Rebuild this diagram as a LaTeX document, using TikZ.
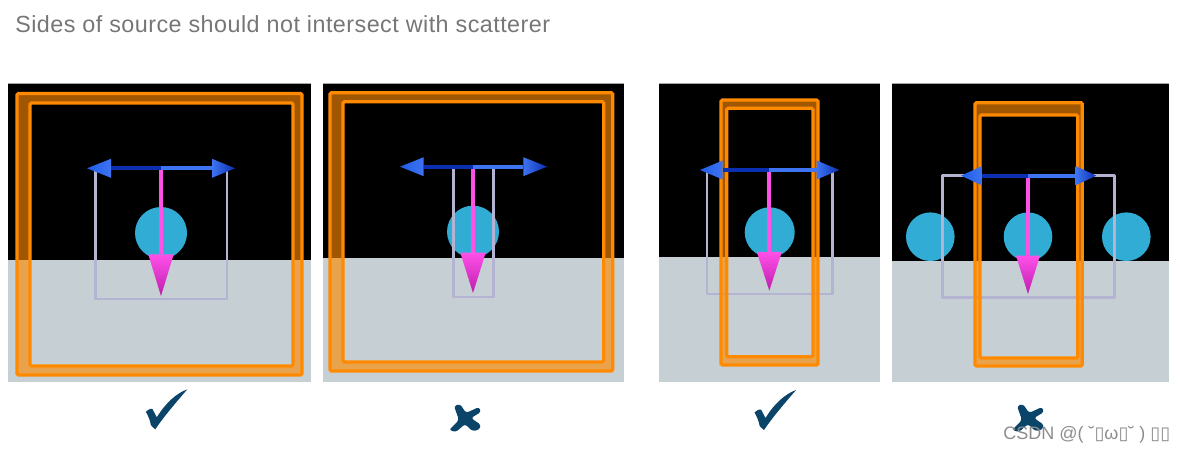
\documentclass[tikz,border=0pt]{standalone}
\usepackage{fontspec}
\setmainfont{Liberation Sans}
\newfontfamily\symfont{DejaVu Sans}
\definecolor{groundc}{HTML}{C6CFD3}
\definecolor{scatc}{HTML}{31ADD5}
\definecolor{rectc}{HTML}{B4B4D2}
\definecolor{orangec}{HTML}{FF8A00}
\definecolor{markc}{HTML}{0A4468}
\definecolor{titlec}{HTML}{767676}
\definecolor{wmc}{HTML}{8C8C8C}
\definecolor{bluedark}{HTML}{0A2FB0}
\definecolor{bluelite}{HTML}{3E74F2}
\definecolor{bluemid}{HTML}{1E5CE6}
\definecolor{magc}{HTML}{FF50E8}
\definecolor{magd}{HTML}{BE1EAE}
\tikzset{
  srcbox/.style={draw=rectc,line width=2.1pt,line join=round},
  scatterer/.style={fill=scatc},
  orangeline/.style={draw=orangec,line width=2.4pt,rounded corners=1pt},
  orangeband/.style={fill=orangec,fill opacity=.63,even odd rule},
  markfill/.style={fill=markc},
}
% panel background: x0, x1, horizon
\newcommand{\bgpanel}[3]{%
  \fill[black] (#1,83.5) rectangle (#2,#3);
  \fill[groundc] (#1,#3) rectangle (#2,381.7);
  \draw[gray!70,line width=.5pt] (#1,83.5) -- (#2,83.5);
}
% orange box: outer x0,y0,x1,y1 then inner x0,y0,x1,y1
\newcommand{\orangebox}[8]{%
  \fill[orangeband] (#1,#2) rectangle (#3,#4) (#5,#6) rectangle (#7,#8);
  \draw[orangeline] (#1,#2) rectangle (#3,#4);
  \draw[orangeline] (#5,#6) rectangle (#7,#8);
}
% cx, ytop, conetop, tip, half width
\newcommand{\magarrow}[5]{%
  \draw[magc,line width=2.8pt] (#1,#2) -- (#1,#3);
  \shade[top color=magc,bottom color=magd] (#1-#5,#3) -- (#1+#5,#3) -- (#1,#4) -- cycle;
}
% tipL, baseL, cx, baseR, tipR, y
\newcommand{\bluearrows}[6]{%
  \draw[bluedark,line width=2.8pt] (#2,#6) -- (#3,#6);
  \draw[bluelite,line width=2.8pt] (#3,#6) -- (#4,#6);
  \shade[left color=bluemid,right color=bluelite] (#1,#6) -- (#2,#6-9.5) -- (#2,#6+9.5) -- cycle;
  \shade[left color=bluelite,right color=bluedark] (#5,#6) -- (#4,#6-9.5) -- (#4,#6+9.5) -- cycle;
}
\newcommand{\srcrect}[4]{\draw[srcbox] (#1,#3) -- (#1,#4) -- (#2,#4) -- (#2,#3);}
\newcommand{\tickmark}[2]{%
  \fill[markfill,shift={(#1,#2)}] (-41.5,22.5) .. controls (-38,19.5) and (-36,19) .. (-35,19.5) -- (-30.5,28) .. controls (-22,14) and (-11,4) .. (0,0) .. controls (-12,14) and (-24,28) .. (-32,40) .. controls (-34,38) and (-37,37) .. (-37,33) .. controls (-38,29) and (-40,25) .. cycle;
}
\newcommand{\crossmark}[2]{%
  \fill[markfill,rounded corners=2pt,shift={(#1,#2)}] (-11,-12) -- (-5,-14) -- (1,-5) -- (14,-11) -- (16,-6) -- (6,0) -- (16,7) -- (14,12) -- (7,13) -- (0,6) -- (-9,14) -- (-16,12) -- (-6,2) -- cycle;
}
\begin{document}
\begin{tikzpicture}[x=.75pt,y=-.75pt]
\useasboundingbox (0,0) rectangle (1181,452);
\node[anchor=base west,inner sep=0pt,text=titlec,font=\fontsize{17.5}{20}\selectfont\addfontfeature{LetterSpace=2}] (title) at (15,33) {Sides of source should not intersect with scatterer};

% panel 1
\bgpanel{7.5}{311}{260}
\fill[scatterer] (161,233) circle (26);
\srcrect{95.3}{227}{168.3}{299}
\orangebox{17}{93.5}{302}{375}{30}{103}{293}{366}
\magarrow{161}{168.3}{254.5}{296}{12.7}
\bluearrows{87}{111}{161}{212}{235}{168.3}

% panel 2
\bgpanel{323}{624}{258}
\fill[scatterer] (473,231.7) circle (26);
\srcrect{453.3}{493.7}{166.7}{297}
\orangebox{330}{92.7}{612.7}{371}{343}{101.7}{603.7}{362}
\magarrow{473}{166.7}{252.7}{293}{12.7}
\bluearrows{400}{423.7}{473}{523.3}{547}{166.7}

% panel 3
\bgpanel{659.3}{879.7}{257.3}
\fill[scatterer] (769.7,232.3) circle (25);
\srcrect{707}{832.3}{170}{294}
\orangebox{721}{100}{818}{365}{726.7}{108.3}{813}{356.7}
\magarrow{769.3}{170}{252}{290.7}{12.5}
\bluearrows{700}{722.7}{769.3}{816.7}{839.3}{170}

% panel 4
\bgpanel{892.3}{1168.7}{260.7}
\fill[scatterer] (930.3,236.7) circle (24.3);
\fill[scatterer] (1028,236.7) circle (24.3);
\fill[scatterer] (1126.3,236.7) circle (24.3);
\draw[srcbox] (942.3,175.7) rectangle (1114.7,297.3);
\orangebox{975}{102.7}{1082.3}{366}{980}{115}{1077.7}{358}
\magarrow{1028}{175.7}{255.7}{294}{12}
\bluearrows{961}{981.7}{1028}{1075.7}{1096.3}{175.7}

% marks
\tickmark{187.3}{389.3}
\crossmark{465}{418}
\tickmark{796}{390}
\crossmark{1028}{418}
\node[anchor=base west,inner sep=0pt,text=wmc,font=\fontsize{13.5}{16}\selectfont] (wm) at (1003,439.5) {CSDN @( ˘{\symfont ▯}ω{\symfont ▯}˘ ) {\symfont ▯▯}};
\end{tikzpicture}
\end{document}
